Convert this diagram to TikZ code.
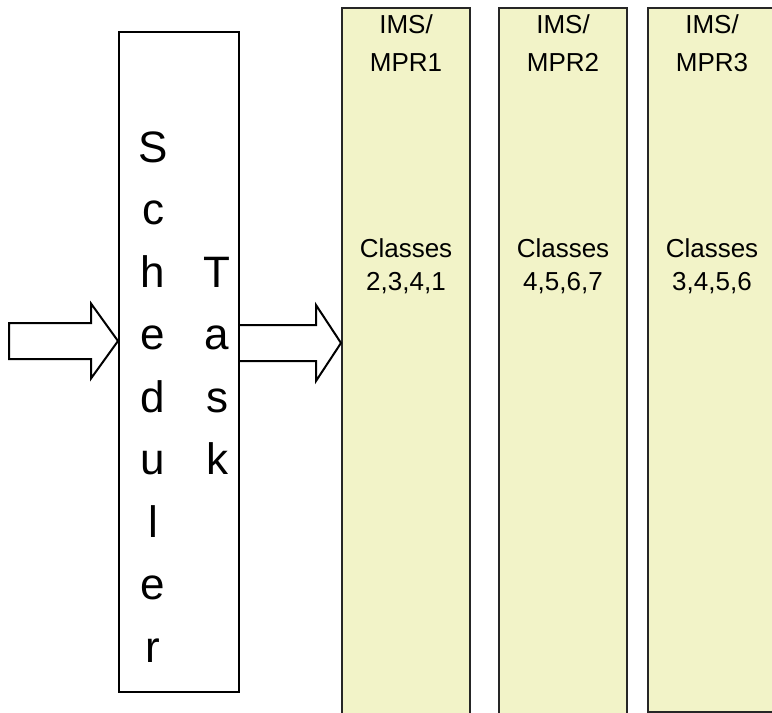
\documentclass[tikz,border=0pt]{standalone}
\usepackage{fontspec}
\setmainfont{Liberation Sans}
\usetikzlibrary{calc}
\definecolor{boxyellow}{RGB}{242,243,200}
\tikzset{
  schedbox/.style={draw=black, line width=2pt, fill=white, rectangle, inner sep=0pt},
  ybox/.style={draw=black!85, line width=2pt, fill=boxyellow, rectangle, inner sep=0pt},
  bigletter/.style={font=\fontsize{44pt}{50pt}\selectfont, anchor=base, inner sep=0pt},
  label/.style={font=\fontsize{26pt}{30pt}\selectfont, anchor=base, inner sep=0pt},
  barrow/.style={draw=black, line width=2pt, fill=white, line join=miter}
}
\begin{document}
\begin{tikzpicture}[x=1pt, y=-1pt]
\useasboundingbox (0,0) rectangle (772,713);
\clip (0,0) rectangle (772,713);
% boxes
\node[schedbox, minimum width=120pt, minimum height=660pt] (sched) at (179,362) {};
\node[ybox, minimum width=128pt, minimum height=740pt] (mpr1) at (406,378) {};
\node[ybox, minimum width=128pt, minimum height=740pt] (mpr2) at (563,378) {};
\node[ybox, minimum width=128pt, minimum height=704pt] (mpr3) at (712,360) {};
% vertical words
\foreach \ch [count=\i] in {S,c,h,e,d,u,l,e,r}
  \node[bigletter] (sl\i) at (153,{162+62.5*(\i-1)}) {\ch};
\foreach \ch [count=\i] in {T,a,s,k}
  \node[bigletter] (tl\i) at (217,{287+62.5*(\i-1)}) {\ch};
% labels
\node[label] (h1a) at (406,33) {IMS/};
\node[label] (h1b) at (406,71) {MPR1};
\node[label] (h2a) at (563,33) {IMS/};
\node[label] (h2b) at (563,71) {MPR2};
\node[label] (h3a) at (712,33) {IMS/};
\node[label] (h3b) at (712,71) {MPR3};
\node[label] (c1a) at (406,257) {Classes};
\node[label] (c1b) at (406,290) {2,3,4,1};
\node[label] (c2a) at (563,257) {Classes};
\node[label] (c2b) at (563,290) {4,5,6,7};
\node[label] (c3a) at (712,257) {Classes};
\node[label] (c3b) at (712,290) {3,4,5,6};
% block arrows
\coordinate (tailL) at (9,341);
\coordinate (tipL) at (sched.west |- tailL);
\draw[barrow] ($(tailL)+(0,-18)$) -- ($(tipL)+(-27,-18)$) -- ($(tipL)+(-27,-37.5)$)
  -- (tipL) -- ($(tipL)+(-27,37.5)$) -- ($(tipL)+(-27,18)$) -- ($(tailL)+(0,18)$) -- cycle;
\coordinate (tailR) at (sched.east |- 0,343);
\coordinate (tipR) at (mpr1.west |- tailR);
\draw[barrow] ($(tailR)+(0,-18)$) -- ($(tipR)+(-25,-18)$) -- ($(tipR)+(-25,-38)$)
  -- (tipR) -- ($(tipR)+(-25,38)$) -- ($(tipR)+(-25,18)$) -- ($(tailR)+(0,18)$);
\end{tikzpicture}
\end{document}
